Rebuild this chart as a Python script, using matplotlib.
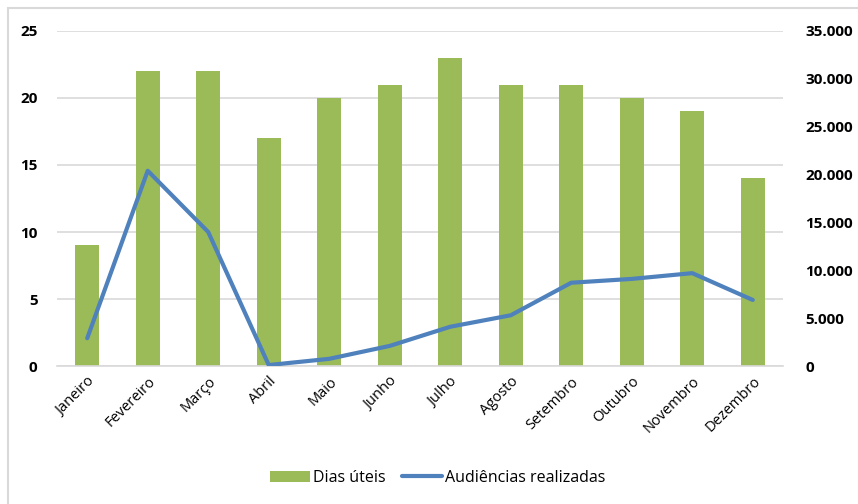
import matplotlib.pyplot as plt
import numpy as np
from matplotlib.patches import Rectangle

meses = ['Janeiro', 'Fevereiro', 'Março', 'Abril', 'Maio', 'Junho', 'Julho',
         'Agosto', 'Setembro', 'Outubro', 'Novembro', 'Dezembro']
dias_uteis = [9, 22, 22, 17, 20, 21, 23, 21, 21, 20, 19, 14]
audiencias = [2900, 20400, 14000, 100, 750, 2100, 4100, 5300, 8700, 9100, 9700, 6900]

plt.rcParams['font.family'] = ['Open Sans', 'DejaVu Sans']

fig = plt.figure(figsize=(8.58, 5.04), dpi=100)
# moldura cinza clara em volta do gráfico
fig.patches.append(Rectangle((8 / 858, -0.1), 1.1, 1 - 8 / 504 + 0.1,
                             transform=fig.transFigure, fill=False,
                             edgecolor='#d9d9d9', linewidth=1.5))

ax = fig.add_axes([0.0664, 0.2738, 0.8462, 0.6647])
x = np.arange(len(meses))
ax.bar(x, dias_uteis, width=0.4, color='#9BBB59', label='Dias úteis', zorder=2)
ax.set_xlim(-0.5, len(meses) - 0.5)
ax.set_ylim(0, 25)
ax.set_yticks(range(0, 26, 5))
ax.grid(axis='y', color='#d9d9d9', linewidth=1.2, zorder=0)
ax.set_axisbelow(True)
for s in ['top', 'right', 'left']:
    ax.spines[s].set_visible(False)
ax.spines['bottom'].set_color('#d9d9d9')
ax.spines['bottom'].set_linewidth(1.2)
ax.tick_params(axis='both', length=0)
ax.tick_params(axis='y', pad=14)
for t in ax.get_yticklabels():
    t.set_fontsize(11)
    t.set_fontweight('bold')
ax.set_xticks(x)
ax.set_xticklabels(meses, rotation=45, ha='right', rotation_mode='anchor', fontsize=10.5)
ax.tick_params(axis='x', pad=6)

# eixo secundário: audiências
ax2 = ax.twinx()
ax2.plot(x, audiencias, color='#4F81BD', linewidth=3, label='Audiências realizadas',
         solid_capstyle='round', zorder=3)
ax2.set_ylim(0, 35000)
ax2.set_yticks(range(0, 35001, 5000))
ax2.set_yticklabels([f'{v:,}'.replace(',', '.') for v in range(0, 35001, 5000)])
for s in ['top', 'right', 'left', 'bottom']:
    ax2.spines[s].set_visible(False)
ax2.tick_params(axis='y', length=0, pad=16)
for t in ax2.get_yticklabels():
    t.set_fontsize(11)
    t.set_fontweight('bold')

h1, l1 = ax.get_legend_handles_labels()
h2, l2 = ax2.get_legend_handles_labels()
fig.legend(h1 + h2, l1 + l2, loc='center', bbox_to_anchor=(0.51, 0.052),
           ncol=2, frameon=False, fontsize=11.5, handlelength=2.5,
           handletextpad=0.2, columnspacing=1.0)

fig.savefig('out.png', dpi=100)
